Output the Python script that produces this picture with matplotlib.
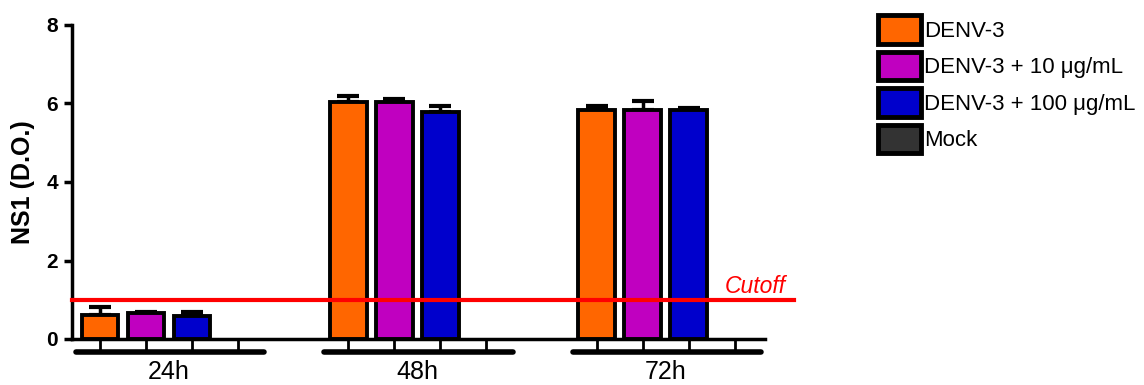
import matplotlib
matplotlib.use("Agg")
import matplotlib.pyplot as plt
import numpy as np

plt.rcParams['font.family'] = ['Liberation Sans', 'DejaVu Sans']

groups = ["24h", "48h", "72h"]
series = ["DENV-3", "DENV-3 + 10 \u03bcg/mL", "DENV-3 + 100 \u03bcg/mL", "Mock"]
colors = ["#FF6600", "#C000C0", "#0000CC", "#333333"]
# values per series, one per group
values = [
    [0.62, 6.05, 5.83],
    [0.66, 6.03, 5.83],
    [0.58, 5.78, 5.83],
    [0.0, 0.0, 0.0],
]
errors = [
    [0.20, 0.13, 0.10],
    [0.03, 0.08, 0.24],
    [0.12, 0.15, 0.06],
    [0.0, 0.0, 0.0],
]
cutoff = 1.0

group_step = 5.4
fig = plt.figure(figsize=(11.44, 3.85), dpi=100)
ax = fig.add_axes([72/1144, 1-339/385, (765-72)/1144, (339-25)/385])

tick_pos = []
for s in range(len(series)):
    xs = np.arange(len(groups)) * group_step + s
    tick_pos.extend(xs)
    if s == 3:
        continue
    ax.bar(xs, values[s], width=0.8, color=colors[s], edgecolor="black",
           linewidth=2.8, zorder=3)
    ax.errorbar(xs, values[s], yerr=[np.zeros(3), errors[s]], fmt="none",
                ecolor="black", elinewidth=2.5, capsize=8, capthick=3, zorder=2)

ax.set_xlim(-0.61, 14.46)
ax.set_ylim(0, 8)
ax.set_yticks([0, 2, 4, 6, 8])
ax.set_xticks(sorted(tick_pos))
ax.set_xticklabels([])
ax.tick_params(axis="x", length=8, width=2, direction="out")
ax.tick_params(axis="y", length=6, width=2.5, direction="out", labelsize=15, pad=4)
for lbl in ax.get_yticklabels():
    lbl.set_fontweight("bold")
for sp in ["top", "right"]:
    ax.spines[sp].set_visible(False)
for sp in ["left", "bottom"]:
    ax.spines[sp].set_linewidth(2.5)
ax.set_ylabel("NS1 (D.O.)", fontsize=18, fontweight="bold", labelpad=8)

# group underlines and labels
trans = ax.get_xaxis_transform()
for i, g in enumerate(groups):
    x0 = i * group_step
    ax.plot([x0 - 0.52, x0 + 3.57], [-0.042, -0.042], color="black", lw=4,
            solid_capstyle="round", transform=trans, clip_on=False)
    ax.text(x0 + 1.5, -0.105, g, transform=trans, ha="center", va="center",
            fontsize=18)

# cutoff
ax.plot([-0.61, 15.1], [cutoff, cutoff], color="red", lw=3, clip_on=False, zorder=4)
ax.text(14.25, cutoff + 0.35, "Cutoff", color="red", style="italic",
        fontsize=16.5, ha="center", va="center")

handles = [plt.Rectangle((0, 0), 1, 1, facecolor=c, edgecolor="black", linewidth=3.5)
           for c in colors]
fig.legend(handles, series, loc="upper left", bbox_to_anchor=(878/1144, 1-15/385),
           frameon=False, fontsize=16, handlelength=1.95, handleheight=1.6,
           labelspacing=0.36, handletextpad=0.14, borderpad=0, borderaxespad=0)

fig.savefig("out.png", dpi=100)
